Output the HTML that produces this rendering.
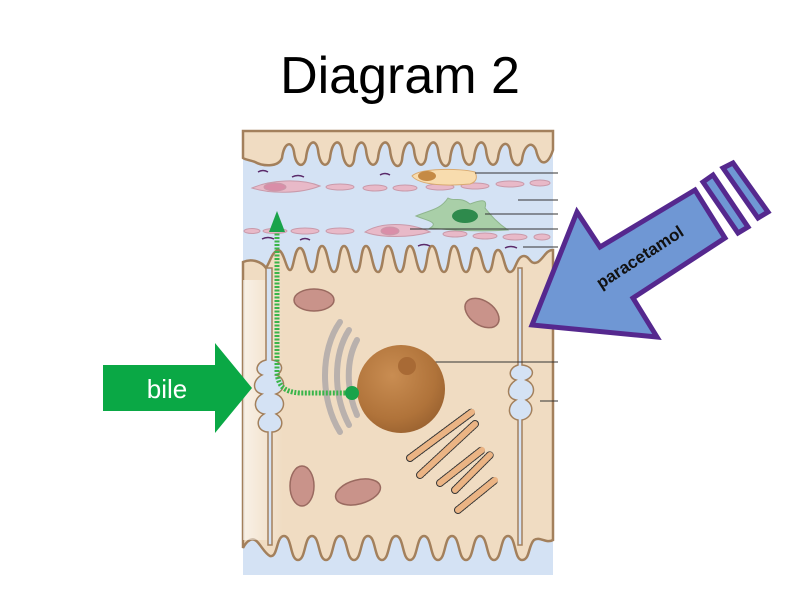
<!DOCTYPE html>
<html><head><meta charset="utf-8"><style>
html,body{margin:0;padding:0;background:#fff;}
svg{display:block;}
</style></head><body>
<svg width="800" height="600" viewBox="0 0 800 600" xmlns="http://www.w3.org/2000/svg">
<defs>
<radialGradient id="nuc" cx="0.4" cy="0.35" r="0.7">
<stop offset="0" stop-color="#c98d52"/><stop offset="0.7" stop-color="#b0733a"/><stop offset="1" stop-color="#9a6230"/>
</radialGradient>
<linearGradient id="fadeL" x1="0" x2="1"><stop offset="0" stop-color="#fff" stop-opacity="0.6"/><stop offset="1" stop-color="#fff" stop-opacity="0"/></linearGradient>
</defs>
<text x="400" y="93" text-anchor="middle" font-family="Liberation Sans, sans-serif" font-size="52" fill="#000">Diagram 2</text>

<rect x="243" y="131" width="310" height="444" fill="#d4e2f4"/>
<path d="M243,131 H553 V150 C548,165 540,168 536,150 C532,140 524,145 522,160 C520,168 512,168 510,150 C508,140 500,142 498,158 C496,168 488,168 486,150 C484,138 476,140 474,158 C472,168 464,168 462,150 C460,138 452,140 450,160 C448,170 440,168 438,150 C436,138 428,140 426,158 C424,168 416,168 414,150 C412,138 404,140 402,160 C400,170 392,168 390,150 C388,138 380,140 378,158 C376,168 368,168 366,150 C364,138 356,140 354,160 C352,170 344,168 342,150 C340,138 332,140 330,158 C328,168 320,168 318,150 C316,138 308,140 306,158 C304,168 296,168 294,152 C292,140 284,142 282,158 C278,168 262,166 255,162 C250,160 246,160 243,158 Z" fill="#f0dcc2" stroke="#a3805c" stroke-width="2.5"/>
<path d="M243,262 C252,258 262,262 266,268 C270,262 272,252 278,250 C284,250 286,270 290,270 C294,270 294,248 300,248 C306,248 306,272 312,272 C318,272 316,246 322,246 C328,246 328,272 334,272 C340,272 338,246 344,246 C350,246 350,272 356,272 C362,272 360,246 366,246 C372,246 372,272 378,272 C384,272 382,246 388,246 C394,246 394,272 400,272 C406,272 404,246 410,246 C416,246 416,272 422,272 C428,272 426,246 432,246 C438,246 438,272 444,272 C450,272 448,246 454,246 C460,246 460,272 466,272 C472,272 470,248 476,248 C482,248 482,272 488,272 C494,272 492,250 498,250 C504,250 504,272 510,272 C516,272 516,256 524,256 C530,256 530,266 538,262 C544,258 546,250 553,250 V540 C546,544 540,536 534,540 C528,546 530,560 522,560 C514,560 516,536 508,536 C500,536 502,560 494,560 C486,560 488,536 480,536 C472,536 474,560 466,560 C458,560 460,536 452,536 C444,536 446,560 438,560 C430,560 432,536 424,536 C416,536 418,560 410,560 C402,560 404,536 396,536 C388,536 390,560 382,560 C374,560 376,536 368,536 C360,536 362,560 354,560 C346,560 348,536 340,536 C332,536 334,560 326,560 C318,560 320,536 312,536 C304,536 306,560 298,560 C290,560 292,536 284,536 C276,536 278,558 270,556 C262,552 258,536 250,540 C246,542 244,546 243,548 Z" fill="#f0dcc2" stroke="#a3805c" stroke-width="2.5"/>
<rect x="243" y="280" width="40" height="260" fill="url(#fadeL)"/>
<g stroke="#a3805c" stroke-width="1.5" fill="#d4e2f4">
<path d="M266,268 V360 C256,362 254,372 262,375 C252,380 252,392 262,394 C252,400 254,412 264,414 C254,420 258,432 268,432 V545 H272 V432 C282,432 286,420 276,414 C286,410 286,398 276,394 C286,390 286,378 276,375 C284,372 284,362 272,360 V268 Z"/>
<path d="M518,268 V365 C508,368 508,378 516,380 C506,386 506,398 516,400 C506,406 508,418 518,420 V545 H522 V420 C532,418 536,406 526,400 C536,396 536,384 526,380 C536,376 534,366 522,365 V268 Z"/>
</g>
<g fill="#e8b9c8" stroke="#c99aaa" stroke-width="1">
<path d="M252,188 C270,180 300,178 320,186 C300,194 270,194 252,188 Z"/>
<ellipse cx="275" cy="187" rx="11" ry="4" fill="#d98ea8"/>
<ellipse cx="340" cy="187" rx="14" ry="3"/><ellipse cx="375" cy="188" rx="12" ry="3"/>
<ellipse cx="405" cy="188" rx="12" ry="3"/><ellipse cx="440" cy="187" rx="14" ry="3"/>
<ellipse cx="475" cy="186" rx="14" ry="3"/><ellipse cx="510" cy="184" rx="14" ry="3"/><ellipse cx="540" cy="183" rx="10" ry="3"/>
<ellipse cx="252" cy="231" rx="8" ry="2.5"/><ellipse cx="275" cy="231" rx="12" ry="2.5"/><ellipse cx="305" cy="231" rx="14" ry="3"/><ellipse cx="340" cy="231" rx="14" ry="3"/>
<path d="M365,232 C380,222 410,222 430,232 C410,238 380,238 365,232 Z"/>
<ellipse cx="390" cy="231" rx="9" ry="4" fill="#d98ea8"/>
<ellipse cx="455" cy="234" rx="12" ry="3"/><ellipse cx="485" cy="236" rx="12" ry="3"/><ellipse cx="515" cy="237" rx="12" ry="3"/><ellipse cx="542" cy="237" rx="8" ry="3"/>
</g>
<path d="M412,176 C420,168 460,168 475,172 C478,178 476,182 470,184 C450,186 420,186 412,176 Z" fill="#f8dcae" stroke="#d9aa70"/>
<ellipse cx="427" cy="176" rx="9" ry="5" fill="#c58a45"/>
<path d="M416,216 C430,210 440,210 448,198 C455,202 460,196 470,204 C480,200 488,198 485,208 C490,214 496,222 508,230 C480,232 450,230 430,228 C440,222 425,220 416,216 Z" fill="#a9cfa8" stroke="#8fb58e"/>
<ellipse cx="465" cy="216" rx="13" ry="7" fill="#2e8a4c"/>
<g stroke="#5a2a6a" stroke-width="1.5" fill="none">
<path d="M258,172 q5,-3 10,0"/><path d="M292,177 q6,-3 12,0"/><path d="M380,175 q5,-3 10,0"/>
<path d="M262,239 q6,-3 12,0"/><path d="M300,240 q5,-3 10,0"/><path d="M418,246 q6,-3 12,0"/><path d="M505,248 q6,-3 12,0"/>
</g>
<g stroke="#333" stroke-width="1">
<line x1="475" y1="173" x2="558" y2="173"/><line x1="518" y1="200" x2="558" y2="200"/>
<line x1="485" y1="214" x2="558" y2="214"/><line x1="410" y1="229" x2="558" y2="229"/>
<line x1="523" y1="247" x2="558" y2="247"/><line x1="410" y1="362" x2="558" y2="362"/>
<line x1="540" y1="401" x2="558" y2="401"/>
</g>
<g fill="#c9938a" stroke="#9a6a60" stroke-width="1.5">
<ellipse cx="314" cy="300" rx="20" ry="11"/><ellipse cx="482" cy="313" rx="19" ry="12" transform="rotate(35 482 313)"/>
<ellipse cx="302" cy="486" rx="12" ry="20"/><ellipse cx="358" cy="492" rx="23" ry="12" transform="rotate(-15 358 492)"/>
</g>
<g fill="none" stroke="#b9b1ad" stroke-width="6" stroke-linecap="round">
<path d="M340,322 C320,350 320,400 340,432"/><path d="M349,330 C333,355 333,395 349,425"/>
<path d="M357,340 C346,360 346,390 357,415"/>
</g>
<circle cx="401" cy="389" r="44" fill="url(#nuc)"/>
<circle cx="407" cy="366" r="9" fill="#a86a35"/>
<g stroke="#333" stroke-width="8" stroke-linecap="round" stroke-dasharray="1 2">
<path d="M410,458 L472,412"/><path d="M420,475 L475,424"/><path d="M440,483 L482,450"/><path d="M455,490 L490,455"/><path d="M458,510 L495,480"/>
</g>
<g stroke="#ebb484" stroke-width="6" stroke-linecap="round">
<path d="M410,458 L472,412"/><path d="M420,475 L475,424"/><path d="M440,483 L482,450"/><path d="M455,490 L490,455"/><path d="M458,510 L495,480"/>
</g>
<path d="M277,230 V372 C278,386 284,392 300,393 H350" fill="none" stroke="#3ab54a" stroke-width="5" stroke-dasharray="2 1.5"/>
<polygon points="277,211 269,232 285,232" fill="#19a34a"/>
<circle cx="352" cy="393" r="7" fill="#19a34a"/>
<polygon points="103,365 215,365 215,343 252,388 215,433 215,411 103,411" fill="#0aa845"/>
<text x="167" y="398" text-anchor="middle" font-family="Liberation Sans, sans-serif" font-size="26" fill="#fff">bile</text>
<g fill="#6f97d4" stroke="#55288e" stroke-width="5" stroke-linejoin="miter">
<polygon points="532,325 577,212 600,247 695,190 725,238 633,298 657,337"/>
<polygon points="703,182 713,175 748,227 738,233"/>
<polygon points="723,168 733,163 768,212 758,218"/>
</g>
<text x="0" y="0" transform="translate(643,262) rotate(-33)" text-anchor="middle" font-family="Liberation Sans, sans-serif" font-weight="bold" font-size="17" fill="#111">paracetamol</text>
</svg>
</body></html>
